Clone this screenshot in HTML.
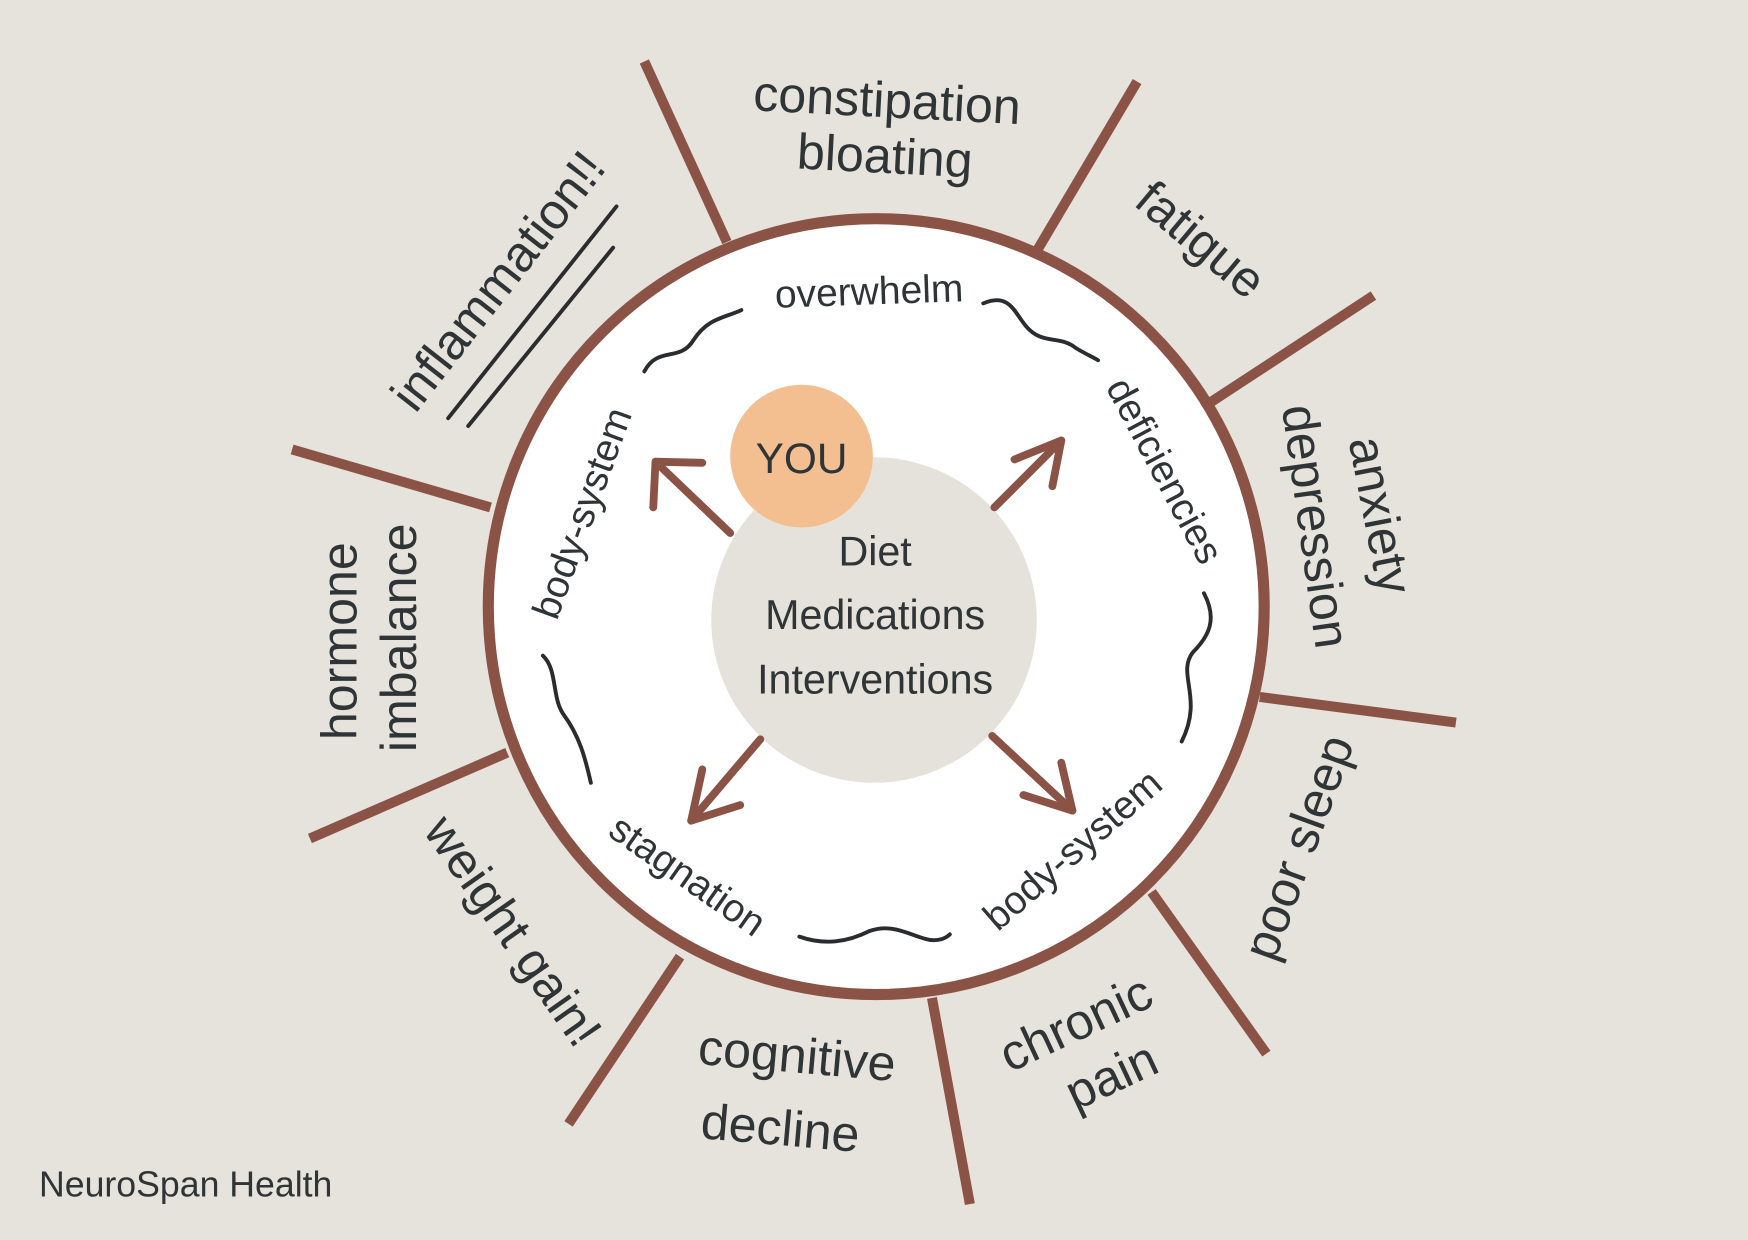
<!DOCTYPE html>
<html><head><meta charset="utf-8"><style>
html,body{margin:0;padding:0;background:#E6E3DC;}
svg{display:block;}
text{font-family:"Liberation Sans",sans-serif;fill:#2F3537;}
</style></head><body>
<svg width="1748" height="1240" viewBox="0 0 1568 1112" xmlns="http://www.w3.org/2000/svg">
<rect width="1568" height="1112" fill="#E6E3DC"/>
<g stroke="#8B5346" stroke-width="9" stroke-linecap="butt">
<line x1="652" y1="217" x2="578" y2="55"/>
<line x1="930" y1="225" x2="1020" y2="73"/>
<line x1="1087" y1="360" x2="1232" y2="265"/>
<line x1="1130" y1="625" x2="1306" y2="648"/>
<line x1="1033" y1="800" x2="1136" y2="945"/>
<line x1="836" y1="895" x2="870" y2="1080"/>
<line x1="610" y1="858" x2="510" y2="1008"/>
<line x1="455" y1="675" x2="278" y2="752"/>
<line x1="440" y1="455" x2="262" y2="403"/>
</g>
<circle cx="786" cy="544" r="348" fill="#fff" stroke="#8B5346" stroke-width="10"/>
<circle cx="784" cy="556" r="146" fill="#E5E2DB"/>
<circle cx="719" cy="409" r="64" fill="#F3BF90"/>
<text x="719" y="424" font-size="38" text-anchor="middle">YOU</text>
<text x="785" y="507" font-size="37" text-anchor="middle">Diet</text>
<text x="785" y="564" font-size="37" text-anchor="middle">Medications</text>
<text x="785" y="622" font-size="37" text-anchor="middle">Interventions</text>
<g stroke="#8B5346" stroke-width="7" fill="none" stroke-linecap="round" stroke-linejoin="round">
<line x1="655" y1="478" x2="588" y2="414"/><polyline points="586,455 588,414 630,415"/>
<line x1="892" y1="455" x2="952" y2="395"/><polyline points="910,412 952,395 944,436"/>
<line x1="682" y1="663" x2="620" y2="736"/><polyline points="630,690 620,736 664,722"/>
<line x1="890" y1="660" x2="962" y2="727"/><polyline points="918,713 962,727 952,684"/>
</g>
<g stroke="#2A2C2E" stroke-width="3.5" fill="none" stroke-linecap="round">
<path d="M578,333 C590,310 610,325 622,305 C635,285 650,285 665,278"/>
<path d="M882,272 C905,262 910,280 920,292 C935,310 950,300 965,312 C975,318 980,320 985,323"/>
<path d="M1080,532 C1092,555 1085,570 1070,585 C1055,605 1080,625 1060,665"/>
<path d="M487,588 C500,600 495,625 505,640 C520,660 525,680 530,702"/>
<path d="M717,840 C740,848 760,845 780,835 C800,828 815,838 830,842 C840,845 848,842 852,838"/>
<path d="M402,375 L553,185"/>
<path d="M420,382 L550,222"/>
</g>
<g font-size="35">
<text transform="translate(780,273) rotate(-2)" text-anchor="middle">overwhelm</text>
<text transform="translate(1045,422) rotate(62)" text-anchor="middle" dy="12">deficiencies</text>
<text transform="translate(962,762) rotate(-41)" text-anchor="middle" dy="12">body-system</text>
<text transform="translate(617,785) rotate(35)" text-anchor="middle" dy="12">stagnation</text>
<text transform="translate(522,460) rotate(-70)" text-anchor="middle" dy="12">body-system</text>
</g>
<g font-size="45">
<text transform="translate(795,105) rotate(3)" text-anchor="middle">constipation</text>
<text transform="translate(793,155) rotate(3)" text-anchor="middle">bloating</text>
<text transform="translate(1077,215) rotate(40)" text-anchor="middle" dy="15">fatigue</text>
<text transform="translate(1238,462) rotate(79)" text-anchor="middle" dy="15">anxiety</text>
<text transform="translate(1180,472) rotate(82)" text-anchor="middle" dy="15">depression</text>
<text transform="translate(1165,760) rotate(-70)" text-anchor="middle" dy="15">poor sleep</text>
<text transform="translate(965,918) rotate(-25)" text-anchor="middle" dy="15">chronic</text>
<text transform="translate(997,965) rotate(-25)" text-anchor="middle" dy="15">pain</text>
<text transform="translate(715,947) rotate(5)" text-anchor="middle" dy="15">cognitive</text>
<text transform="translate(700,1012) rotate(5)" text-anchor="middle" dy="15">decline</text>
<text transform="translate(460,835) rotate(55)" text-anchor="middle" dy="15">weight gain!</text>
<text transform="translate(305,575) rotate(-90)" text-anchor="middle" dy="15">hormone</text>
<text transform="translate(358,572) rotate(-90)" text-anchor="middle" dy="15">imbalance</text>
<text transform="translate(447,252) rotate(-52)" text-anchor="middle" dy="15">inflammation!!</text>
</g>
<text x="35" y="1073" font-size="32">NeuroSpan Health</text>
</svg>
</body></html>
